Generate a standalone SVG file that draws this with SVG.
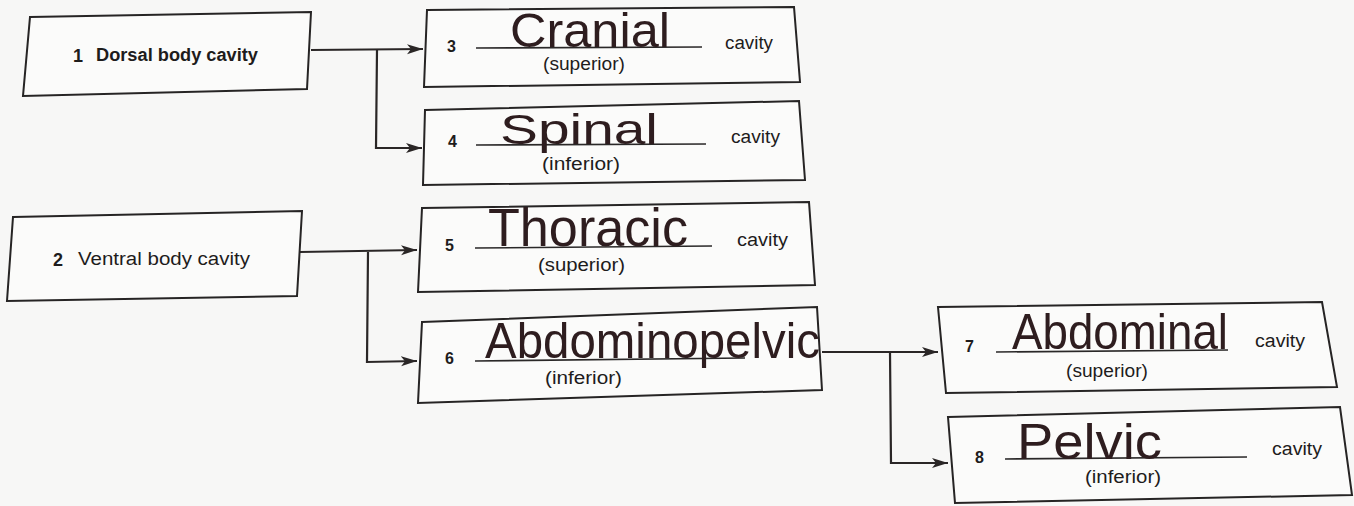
<svg xmlns="http://www.w3.org/2000/svg" width="1354" height="506" viewBox="0 0 1354 506">
  <style>
    .box { fill: #fbfbfa; stroke: #262424; stroke-width: 2; stroke-linejoin: miter; }
    .lbl { font-family: "Liberation Sans", Arial, sans-serif; font-size: 18px; fill: #1e1c1c; }
    .num { font-family: "Liberation Sans", Arial, sans-serif; font-size: 16px; font-weight: bold; fill: #1e1c1c; }
    .main { font-family: "Liberation Sans", Arial, sans-serif; font-size: 18px; font-weight: bold; fill: #1e1c1c; }
    .uline { stroke: #2a2828; stroke-width: 1.6; fill: none; }
    .hand { font-family: "Liberation Sans", Arial, sans-serif; fill: #2e1d1f; }
    .conn { stroke: #2a2626; stroke-width: 2.2; fill: none; }
  </style>
  <defs>
    <marker id="arrow" markerUnits="userSpaceOnUse" markerWidth="18" markerHeight="12" refX="16" refY="5" orient="auto">
      <path d="M0,0 L16,5 L0,10 L4,5 Z" fill="#2a2626"/>
    </marker>
  </defs>
  <rect x="0" y="0" width="1354" height="506" fill="#f7f7f6"/>

  <g id="connectors">
    <polyline class="conn" points="311,50 423,49" marker-end="url(#arrow)"/>
    <polyline class="conn" points="377,50 376,148 422,148" marker-end="url(#arrow)"/>
    <polyline class="conn" points="300,252 417,250" marker-end="url(#arrow)"/>
    <polyline class="conn" points="368,252 367,362 417,361" marker-end="url(#arrow)"/>
    <polyline class="conn" points="822,352 938,352" marker-end="url(#arrow)"/>
    <polyline class="conn" points="890,352 891,463 948,463" marker-end="url(#arrow)"/>
  </g>

  <g id="node1">
    <polygon class="box" points="30,17 311,12 307,89 23,96"/>
    <text class="main" x="73" y="62">1</text>
    <text class="main" x="96" y="61" textLength="162" lengthAdjust="spacingAndGlyphs">Dorsal body cavity</text>
  </g>

  <g id="node2">
    <polygon class="box" points="13,217 302,211 297,296 7,301"/>
    <text class="main" x="53" y="266">2</text>
    <text class="lbl" x="78" y="265" textLength="172" lengthAdjust="spacingAndGlyphs">Ventral body cavity</text>
  </g>

  <g id="node3">
    <polygon class="box" points="427,10 794,7 800,82 424,87"/>
    <text class="num" x="447" y="52">3</text>
    <line class="uline" x1="476" y1="48" x2="702" y2="47"/>
    <text class="hand" font-size="40" transform="translate(510,47) scale(1,1.18)" textLength="160" lengthAdjust="spacingAndGlyphs">Cranial</text>
    <text class="lbl" x="543" y="70" textLength="82" lengthAdjust="spacingAndGlyphs">(superior)</text>
    <text class="lbl" x="725" y="49" textLength="48" lengthAdjust="spacingAndGlyphs">cavity</text>
  </g>

  <g id="node4">
    <polygon class="box" points="425,110 799,101 805,180 423,185"/>
    <text class="num" x="448" y="147">4</text>
    <line class="uline" x1="476" y1="145" x2="706" y2="144"/>
    <text class="hand" font-size="38" transform="translate(500,144) scale(1,1.12)" textLength="158" lengthAdjust="spacingAndGlyphs">Spinal</text>
    <text class="lbl" x="542" y="170" textLength="78" lengthAdjust="spacingAndGlyphs">(inferior)</text>
    <text class="lbl" x="731" y="143" textLength="49" lengthAdjust="spacingAndGlyphs">cavity</text>
  </g>

  <g id="node5">
    <polygon class="box" points="422,208 809,202 815,285 418,292"/>
    <text class="num" x="445" y="251">5</text>
    <line class="uline" x1="475" y1="248" x2="712" y2="246"/>
    <text class="hand" font-size="46" transform="translate(488,246) scale(1,1.15)" textLength="200" lengthAdjust="spacingAndGlyphs">Thoracic</text>
    <text class="lbl" x="538" y="271" textLength="87" lengthAdjust="spacingAndGlyphs">(superior)</text>
    <text class="lbl" x="737" y="246" textLength="51" lengthAdjust="spacingAndGlyphs">cavity</text>
  </g>

  <g id="node6">
    <polygon class="box" points="422,322 817,307 822,390 418,403"/>
    <text class="num" x="445" y="364">6</text>
    <line class="uline" x1="475" y1="361" x2="745" y2="358"/>
    <text class="hand" font-size="44" transform="translate(485,358) scale(1,1.12)" textLength="335" lengthAdjust="spacingAndGlyphs">Abdominopelvic</text>
    <text class="lbl" x="545" y="384" textLength="77" lengthAdjust="spacingAndGlyphs">(inferior)</text>
  </g>

  <g id="node7">
    <polygon class="box" points="938,307 1322,302 1337,387 946,393"/>
    <text class="num" x="965" y="352">7</text>
    <line class="uline" x1="996" y1="352" x2="1228" y2="350"/>
    <text class="hand" font-size="44" transform="translate(1012,349) scale(1,1.15)" textLength="216" lengthAdjust="spacingAndGlyphs">Abdominal</text>
    <text class="lbl" x="1066" y="377" textLength="82" lengthAdjust="spacingAndGlyphs">(superior)</text>
    <text class="lbl" x="1255" y="347" textLength="50" lengthAdjust="spacingAndGlyphs">cavity</text>
  </g>

  <g id="node8">
    <polygon class="box" points="948,417 1340,407 1352,495 955,503"/>
    <text class="num" x="975" y="463">8</text>
    <line class="uline" x1="1005" y1="459" x2="1247" y2="457"/>
    <text class="hand" font-size="44" transform="translate(1017,459) scale(1,1.15)" textLength="145" lengthAdjust="spacingAndGlyphs">Pelvic</text>
    <text class="lbl" x="1085" y="483" textLength="76" lengthAdjust="spacingAndGlyphs">(inferior)</text>
    <text class="lbl" x="1272" y="455" textLength="50" lengthAdjust="spacingAndGlyphs">cavity</text>
  </g>
</svg>
